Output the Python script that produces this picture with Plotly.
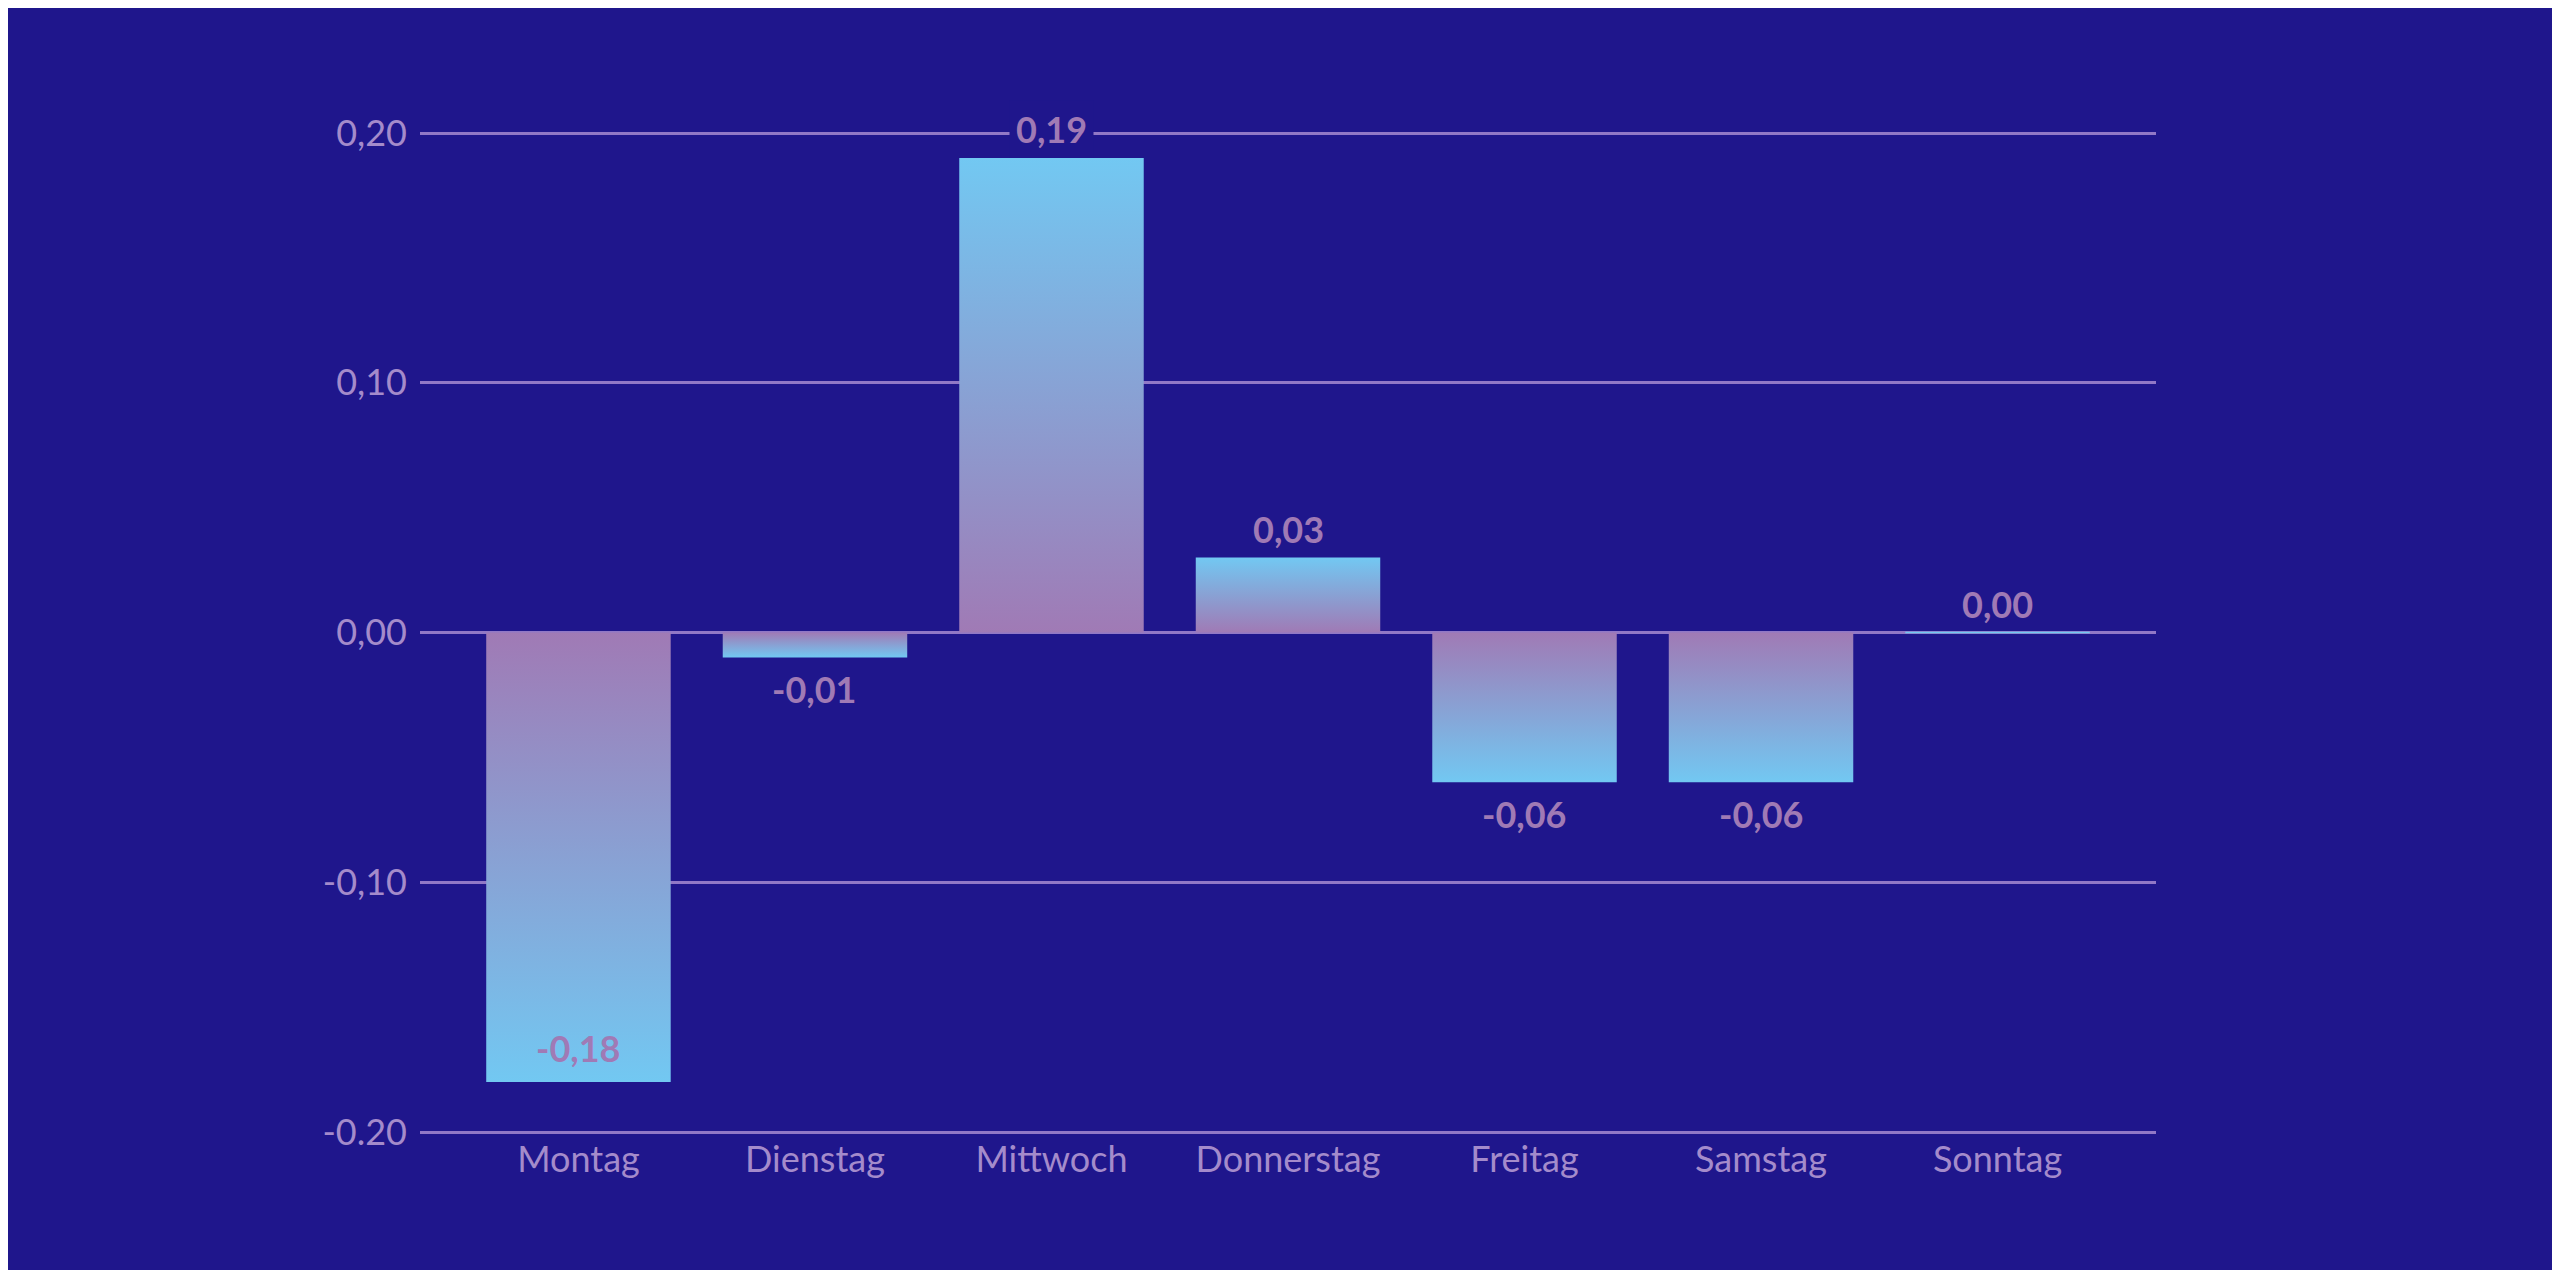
import plotly.graph_objects as go

days = ["Montag", "Dienstag", "Mittwoch", "Donnerstag", "Freitag", "Samstag", "Sonntag"]
values = [-0.18, -0.01, 0.19, 0.03, -0.06, -0.06, 0.0]
labels = ["-0,18", "-0,01", "0,19", "0,03", "-0,06", "-0,06", "0,00"]
ytick_vals = [-0.2, -0.1, 0.0, 0.1, 0.2]
ytick_text = ["-0.20", "-0,10", "0,00", "0,10", "0,20"]

BG = "#1f168c"
PURPLE = "#a07ab5"
BLUE = "#72c8f2"
GRID = "#9178c6"
TXT = "#a48bcb"
half = 0.39

fig = go.Figure()
for i, v in enumerate(values):
    xs = [i - half, i + half, i + half, i - half, i - half]
    ys = [0, 0, v, v, 0]
    if v >= 0:
        grad = dict(type="vertical", start=0, stop=max(v, 1e-6),
                    colorscale=[[0, PURPLE], [1, BLUE]])
    else:
        grad = dict(type="vertical", start=v, stop=0,
                    colorscale=[[0, BLUE], [1, PURPLE]])
    fig.add_trace(go.Scatter(x=xs, y=ys, mode="lines", fill="toself",
                             fillgradient=grad,
                             line=dict(width=1.5 if v == 0 else 0, color=BLUE),
                             hoverinfo="skip", showlegend=False))
    if i == 0:
        shift = 34
    elif v >= 0:
        shift = 29
    else:
        shift = -32
    fig.add_annotation(x=i, y=v, text="<b>" + labels[i] + "</b>", showarrow=False,
                       yshift=shift, bgcolor=BG if v > 0.15 else None,
                       borderpad=6,
                       font=dict(family="Lato", size=36, color=PURPLE))

fig.update_xaxes(range=[-0.67, 6.67], tickvals=list(range(len(days))), ticktext=days,
                 showgrid=False, zeroline=False, showline=False, ticks="",
                 tickfont=dict(family="Lato", size=36, color=TXT))
fig.update_yaxes(range=[-0.2012, 0.2012], tickvals=ytick_vals, ticktext=ytick_text,
                 showgrid=True, gridcolor=GRID, gridwidth=2.5, zeroline=False,
                 ticks="", ticklabelstandoff=12,
                 tickfont=dict(family="Lato", size=36, color=TXT))
fig.update_layout(width=2560, height=1270, paper_bgcolor=BG, plot_bgcolor=BG,
                  margin=dict(l=412, r=412, t=122, b=143))
fig.write_html("out.html")
